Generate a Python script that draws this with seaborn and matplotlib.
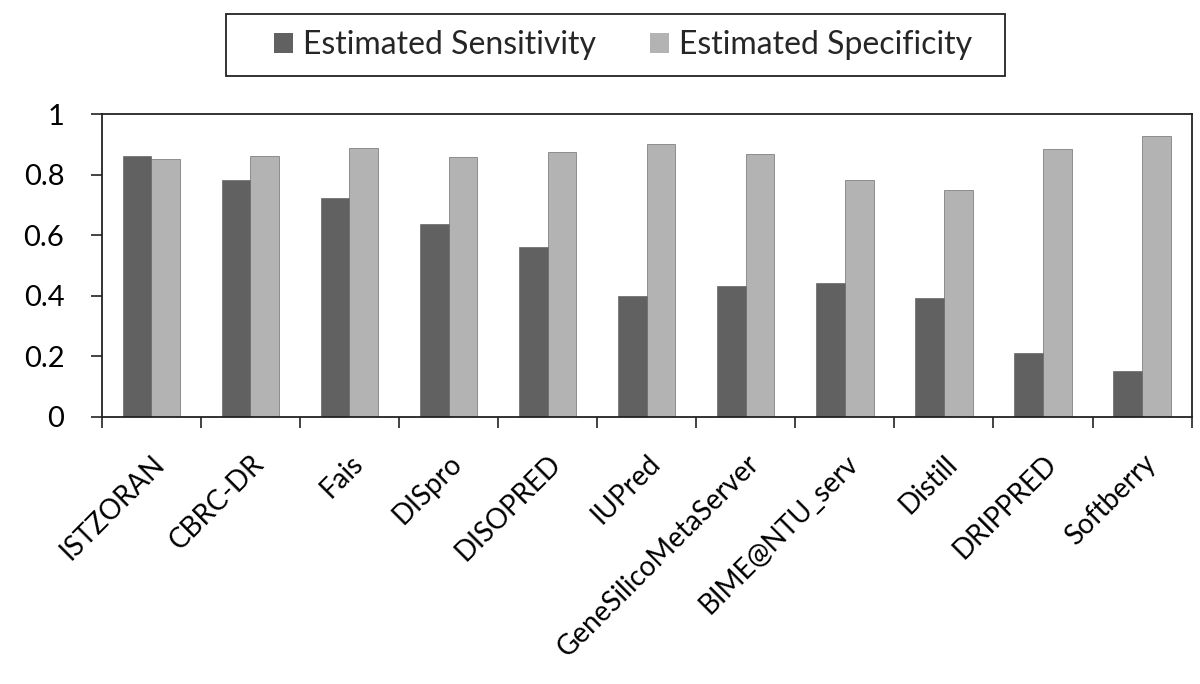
import matplotlib
matplotlib.use('Agg')
import matplotlib.pyplot as plt
import seaborn as sns
import pandas as pd

# data
methods = ['ISTZORAN', 'CBRC-DR', 'Fais', 'DISpro', 'DISOPRED', 'IUPred',
           'GeneSilicoMetaServer', 'BIME@NTU_serv', 'Distill', 'DRIPPRED', 'Softberry']
sensitivity = [0.861, 0.782, 0.722, 0.636, 0.561, 0.398, 0.431, 0.442, 0.394, 0.210, 0.151]
specificity = [0.851, 0.861, 0.889, 0.857, 0.873, 0.901, 0.868, 0.782, 0.749, 0.883, 0.927]
series_names = ['Estimated Sensitivity', 'Estimated Specificity']
y_ticks = [0, 0.2, 0.4, 0.6, 0.8, 1.0]
y_tick_labels = ['0', '0.2', '0.4', '0.6', '0.8', '1']

df = pd.DataFrame({
    'method': methods * 2,
    'value': sensitivity + specificity,
    'series': [series_names[0]] * len(methods) + [series_names[1]] * len(methods),
})

sns.set_style('white')
plt.rcParams['font.family'] = ['Lato', 'DejaVu Sans']

fig = plt.figure(figsize=(12, 6.84), dpi=100)
ax = fig.add_axes([0.0848, 0.3904, 0.9082, 0.4429])

palette = {series_names[0]: '#616161', series_names[1]: '#b3b3b3'}
sns.barplot(data=df, x='method', y='value', hue='series', palette=palette,
            width=0.58, ax=ax, legend=False, saturation=1,
            edgecolor='#555555', linewidth=0.4)

ax.set_xlim(-0.5, len(methods) - 0.5)
ax.set_ylim(0, 1)
ax.set_yticks(y_ticks)
ax.set_yticklabels(y_tick_labels)
ax.set_xlabel('')
ax.set_ylabel('')

# category ticks sit on the boundaries, labels at the centres
ax.set_xticks([i - 0.5 for i in range(len(methods) + 1)])
ax.set_xticklabels([])
ax.set_xticks(range(len(methods)), minor=True)
ax.set_xticklabels(methods, minor=True, rotation=45, ha='right', va='top',
                   rotation_mode='anchor', fontsize=20, color='black')
ax.tick_params(axis='x', which='minor', length=0, pad=24)
ax.tick_params(axis='x', which='major', direction='out', length=8, width=1.2, color='#222222')
ax.tick_params(axis='y', direction='out', length=8, width=1.2, color='#222222',
               labelsize=21, labelcolor='black', pad=19)
ax.tick_params(bottom=True, left=True)

for side in ['left', 'right', 'top', 'bottom']:
    ax.spines[side].set_visible(True)
    ax.spines[side].set_color('#222222')
    ax.spines[side].set_linewidth(1.3)

# legend box drawn separately so its padding can follow the original
box = plt.Rectangle((0.1883, 0.8889), 0.6492, 0.0906, transform=fig.transFigure,
                    facecolor='white', edgecolor='#222222', linewidth=1.3)
fig.patches.append(box)
handles = [plt.Rectangle((0, 0), 1, 1, facecolor=palette[s], edgecolor='none') for s in series_names]
fig.legend(handles, series_names, loc='center', bbox_to_anchor=(0.519, 0.934),
           ncol=2, fontsize=23, frameon=False,
           handlelength=0.6, handleheight=0.6, handletextpad=0.3, columnspacing=1.7,
           borderpad=0, borderaxespad=0)

fig.savefig('out.png', dpi=100)
